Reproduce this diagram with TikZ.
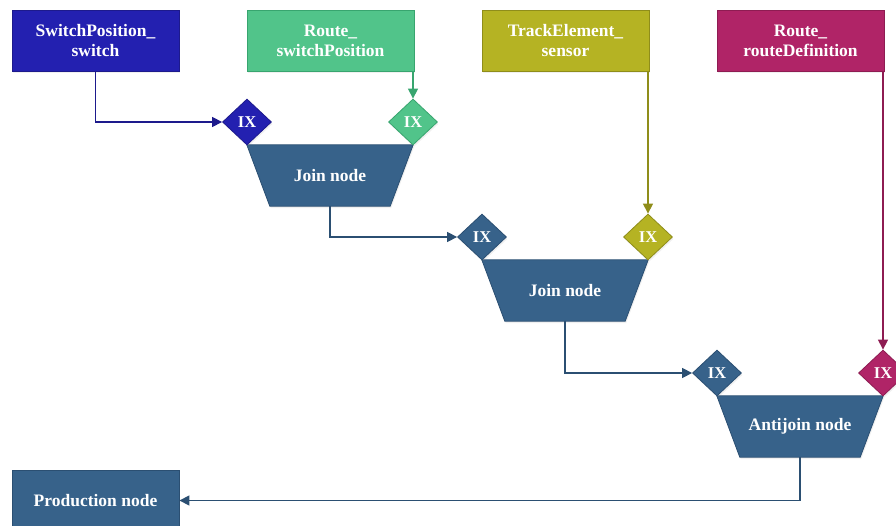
\documentclass[tikz,border=0pt]{standalone}
\usepackage{fontspec}
\setmainfont{Liberation Serif}
\usetikzlibrary{shapes.geometric,arrows.meta,shadows}

\definecolor{cBlue}{HTML}{2320B0}
\definecolor{cBlueLn}{HTML}{1D1A8C}
\definecolor{cGreen}{HTML}{51C48A}
\definecolor{cGreenLn}{HTML}{38A56F}
\definecolor{cOlive}{HTML}{B5B323}
\definecolor{cOliveLn}{HTML}{8F8D1A}
\definecolor{cMag}{HTML}{B02467}
\definecolor{cMagLn}{HTML}{8E1C52}
\definecolor{cSteel}{HTML}{37628A}
\definecolor{cSteelLn}{HTML}{2B4F72}

\tikzset{
  x=1pt, y=-1pt,
  shade/.style={drop shadow={opacity=0.12, shadow xshift=1pt, shadow yshift=-2pt}},
  lbl/.style={text=white, font=\fontsize{17.5}{20}\selectfont\bfseries, align=center},
  srcbox/.style={rectangle, minimum width=167pt, minimum height=61pt, inner sep=0pt,
    lbl, line width=0.8pt, shade},
  ix/.style={diamond, minimum width=49pt, minimum height=46pt, inner sep=0pt,
    text=white, font=\fontsize{16.5}{18}\selectfont\bfseries, line width=0.8pt, shade},
  % text holder for a trapezoidal operator node; the outline is drawn from its anchors
  opnode/.style={rectangle, minimum width=166pt, minimum height=61pt, inner sep=0pt, lbl},
  opbody/.style={fill=cSteel, draw=cSteelLn, line width=0.8pt, line join=miter, shade},
  conn/.style={line width=1.3pt, -{Triangle[length=10pt, width=10pt]}},
}
\newcommand{\opshape}[1]{%
  \filldraw[opbody] (#1.north west) -- (#1.north east)
    -- ([xshift=-23pt]#1.south east) -- ([xshift=23pt]#1.south west) -- cycle;}

\begin{document}
\begin{tikzpicture}
\useasboundingbox (0,0) rectangle (896,526);

% input relations
\node[srcbox, fill=cBlue, draw=cBlueLn]   (sps) at (95.5,40.5)  {SwitchPosition\_\\switch};
\node[srcbox, fill=cGreen, draw=cGreenLn] (rsp) at (330.5,40.5) {Route\_\\switchPosition};
\node[srcbox, fill=cOlive, draw=cOliveLn] (tes) at (565.5,40.5) {TrackElement\_\\sensor};
\node[srcbox, fill=cMag, draw=cMagLn]     (rrd) at (800.5,40.5) {Route\_\\routeDefinition};

% operator node outlines (text placed on top afterwards)
\path (330,175.5) node[opnode] (j1) {};
\path (565,290.5) node[opnode] (j2) {};
\path (800,426.5) node[opnode] (aj) {};
\opshape{j1}
\opshape{j2}
\opshape{aj}
\node[lbl] at (j1.center) {Join node};
\node[lbl] at (j2.center) {Join node};
\node[lbl] at (aj.center) {Antijoin node};

% index inputs
\node[ix, fill=cBlue, draw=cBlueLn]   (ix1) at (247,122) {IX};
\node[ix, fill=cGreen, draw=cGreenLn] (ix2) at (413,122) {IX};
\node[ix, fill=cSteel, draw=cSteelLn] (ix3) at (482,237) {IX};
\node[ix, fill=cOlive, draw=cOliveLn] (ix4) at (648,237) {IX};
\node[ix, fill=cSteel, draw=cSteelLn] (ix5) at (717,373) {IX};
\node[ix, fill=cMag, draw=cMagLn]     (ix6) at (883,373) {IX};

% production
\node[srcbox, fill=cSteel, draw=cSteelLn] (prod) at (95.5,500.5) {Production node};

% connectors
\draw[conn, cBlueLn]  (sps.south) |- (ix1.west);
\draw[conn, cGreenLn] (rsp.south east -| ix2.north) -- (ix2.north);
\draw[conn, cSteelLn] (j1.south) |- (ix3.west);
\draw[conn, cOliveLn] (tes.south east -| ix4.north) -- (ix4.north);
\draw[conn, cSteelLn] (j2.south) |- (ix5.west);
\draw[conn, cMagLn]   (rrd.south east -| ix6.north) -- (ix6.north);
\draw[conn, cSteelLn] (aj.south) |- (prod.east);
\end{tikzpicture}
\end{document}
